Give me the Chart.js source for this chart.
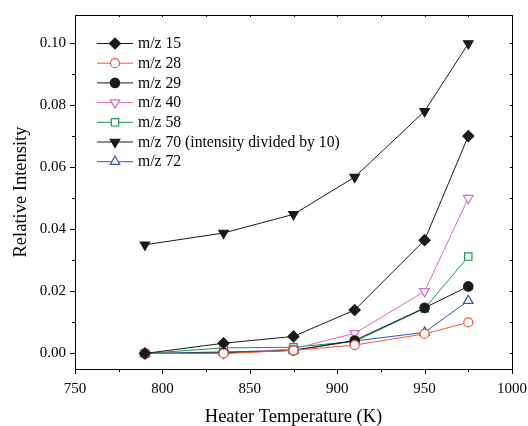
<!DOCTYPE html>
<html>
<head>
<meta charset="utf-8">
<script src="https://cdn.jsdelivr.net/npm/chart.js"></script>
<style>
  html, body { margin: 0; padding: 0; background: #fff; }
  #wrap { width: 528px; height: 426px; }
</style>
</head>
<body>
<div id="wrap"><canvas id="grafica" width="528" height="426"></canvas></div>
<script>
// temperaturas del calentador (K)
const temps = [790, 835, 875, 910, 950, 975];

// intensidades relativas por cada m/z
const mz15 = [0.0000, 0.0033, 0.0055, 0.0140, 0.0365, 0.0700];
const mz28 = [0.0000, 0.0000, 0.0010, 0.0027, 0.0063, 0.0100];
const mz29 = [0.0000, 0.0002, 0.0010, 0.0042, 0.0147, 0.0216];
const mz40 = [0.0000, 0.0000, 0.0015, 0.0065, 0.0200, 0.0500];
const mz58 = [0.0000, 0.0018, 0.0020, 0.0039, 0.0145, 0.0312];
const mz70 = [0.0350, 0.0388, 0.0448, 0.0568, 0.0780, 0.0998];
const mz72 = [0.0000, 0.0005, 0.0010, 0.0040, 0.0068, 0.0170];

const etiquetas = ['m/z 15', 'm/z 28', 'm/z 29', 'm/z 40', 'm/z 58',
                   'm/z 70 (intensity divided by 10)', 'm/z 72'];

const xTicks = [750, 800, 850, 900, 950, 1000];
const yTicks = [0.00, 0.02, 0.04, 0.06, 0.08, 0.10];

const FONT = "'Liberation Serif', 'Times New Roman', serif";

const pts = (ys) => temps.map((t, i) => ({ x: t, y: ys[i] }));

// cada serie: datos, color, forma del marcador, relleno
const serie = (label, ys, color, style, fill, radius, rot) => ({
    label: label,
    data: pts(ys),
    borderColor: color,
    backgroundColor: fill,
    borderWidth: 1,
    pointStyle: style,
    pointRadius: radius,
    pointHoverRadius: radius,
    pointRotation: rot || 0,
    pointBorderColor: color,
    pointBackgroundColor: fill,
    pointBorderWidth: 1.2,
    tension: 0,
    fill: false
});

const datasets = [
    serie(etiquetas[0], mz15, '#1a1a1a', 'rectRot', '#1a1a1a', 5.5),
    serie(etiquetas[1], mz28, '#f05a32', 'circle', '#ffffff', 4.5),
    serie(etiquetas[2], mz29, '#1a1a1a', 'circle', '#1a1a1a', 4.7),
    serie(etiquetas[3], mz40, '#d46cc4', 'triangle', '#ffffff', 5.5, 180),
    serie(etiquetas[4], mz58, '#15994e', 'rect', '#ffffff', 5.2),
    serie(etiquetas[5], mz70, '#1a1a1a', 'triangle', '#1a1a1a', 5.5, 180),
    serie(etiquetas[6], mz72, '#2a5ab8', 'triangle', '#ffffff', 5.5)
];

// sin relleno automatico: el area del grafico queda fija
const sinPadding = (s) => {
    s.paddingLeft = 0; s.paddingRight = 0;
    s.paddingTop = 0; s.paddingBottom = 0;
};

// dibuja marco, marcas mayores/menores y la leyenda dentro del grafico
const extras = {
    id: 'extras',
    afterDraw(chart) {
        const ctx = chart.ctx;
        const a = chart.chartArea;
        const xs = chart.scales.x, ys = chart.scales.y;
        ctx.save();
        ctx.strokeStyle = '#000';
        ctx.lineWidth = 1;
        ctx.strokeRect(Math.round(a.left) + 0.5, Math.round(a.top) + 0.5,
            Math.round(a.right - a.left), Math.round(a.bottom - a.top));

        ctx.beginPath();
        for (let v = 750; v <= 1000; v += 25) {
            const px = Math.round(xs.getPixelForValue(v)) + 0.5;
            const len = (v % 50 === 0) ? 5 : 3;
            ctx.moveTo(px, a.bottom); ctx.lineTo(px, a.bottom + len);
            ctx.moveTo(px, a.top); ctx.lineTo(px, a.top + 2);
        }
        for (let i = 0; i <= 10; i++) {
            const py = Math.round(ys.getPixelForValue(i * 0.01)) + 0.5;
            const len = (i % 2 === 0) ? 5 : 3;
            ctx.moveTo(a.left, py); ctx.lineTo(a.left - len, py);
            ctx.moveTo(a.right, py); ctx.lineTo(a.right - 2, py);
        }
        ctx.stroke();

        // leyenda
        const x0 = 97, x1 = 133, xm = 115, xt = 138;
        let y = 43;
        ctx.font = '15.7px ' + FONT;
        ctx.textBaseline = 'middle';
        ctx.textAlign = 'left';
        chart.data.datasets.forEach(ds => {
            ctx.strokeStyle = ds.borderColor;
            ctx.lineWidth = 1;
            ctx.beginPath();
            ctx.moveTo(x0, y + 0.5); ctx.lineTo(x1, y + 0.5);
            ctx.stroke();
            ctx.fillStyle = ds.pointBackgroundColor;
            ctx.strokeStyle = ds.pointBorderColor;
            ctx.lineWidth = ds.pointBorderWidth;
            Chart.helpers.drawPoint(ctx, {
                pointStyle: ds.pointStyle,
                rotation: ds.pointRotation,
                radius: ds.pointRadius,
                borderWidth: ds.pointBorderWidth
            }, xm, y + 0.5);
            ctx.fillStyle = '#000';
            ctx.fillText(ds.label, xt, y + 1);
            y += 19.7;
        });
        ctx.restore();
    }
};

const $grafica = document.querySelector('#grafica');
new Chart($grafica, {
    type: 'line',
    data: { datasets: datasets },
    options: {
        responsive: false,
        animation: false,
        devicePixelRatio: 1,
        layout: { autoPadding: false, padding: { top: 15, right: 16, left: 0, bottom: 0 } },
        plugins: { legend: { display: false }, tooltip: { enabled: false } },
        scales: {
            x: {
                type: 'linear',
                min: 750,
                max: 1000,
                afterBuildTicks: (s) => { s.ticks = xTicks.map(v => ({ value: v })); },
                afterFit: (s) => { s.height = 57; sinPadding(s); },
                grid: { drawOnChartArea: false, drawTicks: false },
                border: { display: false },
                ticks: {
                    color: '#000',
                    padding: 11,
                    maxRotation: 0,
                    font: { family: FONT, size: 15 },
                    callback: (v) => String(v)
                },
                title: {
                    display: true,
                    text: 'Heater Temperature (K)',
                    color: '#000',
                    font: { family: FONT, size: 18.5, lineHeight: 1 },
                    padding: { top: 0, bottom: 0 }
                }
            },
            y: {
                type: 'linear',
                min: -0.005,
                max: 0.109,
                afterBuildTicks: (s) => { s.ticks = yTicks.map(v => ({ value: v })); },
                afterFit: (s) => { s.width = 75; sinPadding(s); },
                grid: { drawOnChartArea: false, drawTicks: false },
                border: { display: false },
                ticks: {
                    color: '#000',
                    padding: 9,
                    font: { family: FONT, size: 15 },
                    callback: (v) => Number(v).toFixed(2)
                },
                title: {
                    display: true,
                    text: 'Relative Intensity',
                    color: '#000',
                    font: { family: FONT, size: 18.5, lineHeight: 1 },
                    padding: { top: 12, bottom: 0 }
                }
            }
        }
    },
    plugins: [extras]
});
</script>
</body>
</html>
